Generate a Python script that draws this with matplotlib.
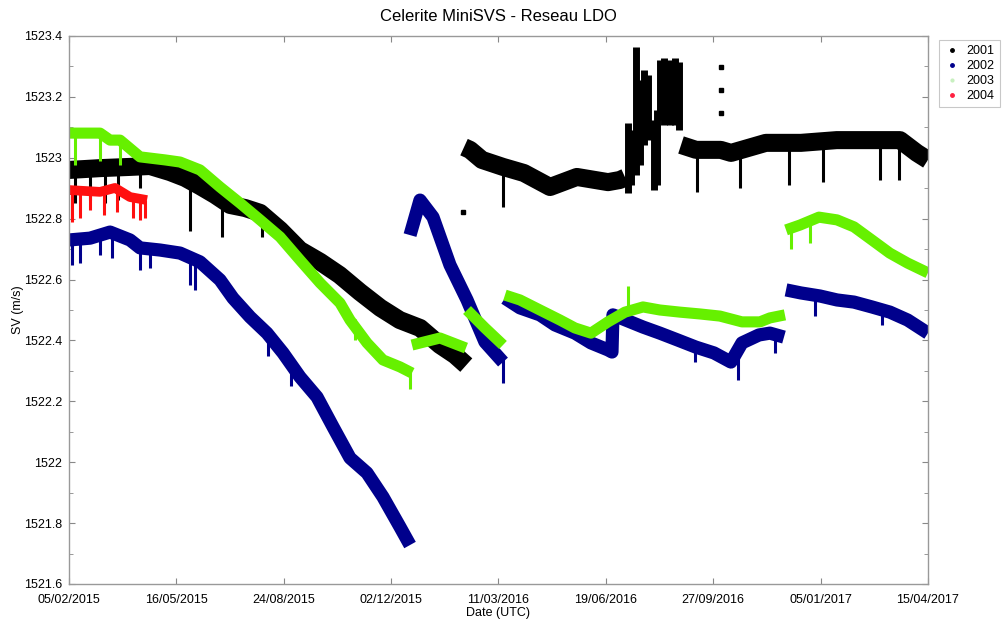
import numpy as np
import pandas as pd
import matplotlib
matplotlib.use('Agg')
import matplotlib.pyplot as plt
from matplotlib.lines import Line2D

plt.rcParams['font.family'] = ['Liberation Sans', 'DejaVu Sans']

# Origine des dates (jours depuis le debut de l'enregistrement)
t0 = pd.Timestamp('2015-02-05')

# Capteur 2001 (noir)
days_2001a = [0, 28.9, 56.8, 75.4, 94.1, 108, 122, 136, 150, 164, 178, 196.5, 215, 234, 252,
              271, 290, 308, 327, 345.5, 359.5, 370]
sv_2001a = [1522.960, 1522.966, 1522.970, 1522.973, 1522.953, 1522.934, 1522.907, 1522.878,
            1522.845, 1522.835, 1522.819, 1522.763, 1522.697, 1522.658, 1522.615, 1522.559,
            1522.507, 1522.467, 1522.441, 1522.385, 1522.352, 1522.319]
days_2001b = [367.9, 373.5, 384.6, 404.2, 423.7, 448, 473, 502, 513, 518]
sv_2001b = [1523.035, 1523.026, 1522.993, 1522.970, 1522.950, 1522.904, 1522.937, 1522.920,
            1522.927, 1522.935]
days_2001c = [570, 584, 607, 616.6, 649, 681.7, 715, 747.8, 774, 789.7, 800]
sv_2001c = [1523.042, 1523.026, 1523.026, 1523.016, 1523.049, 1523.049, 1523.058, 1523.058,
            1523.058, 1523.016, 1522.993]
# pics isoles (jour, min, max)
spk_2001 = [(5.6, 1522.85, 1522.96), (19.6, 1522.86, 1522.96), (33.5, 1522.85, 1522.97),
            (45.6, 1522.86, 1522.97), (66, 1522.90, 1522.97), (112.7, 1522.76, 1522.93),
            (142.5, 1522.74, 1522.86), (180, 1522.74, 1522.82), (404.2, 1522.838, 1522.97),
            (585, 1522.888, 1523.03), (625, 1522.90, 1523.02), (671, 1522.911, 1523.05),
            (702, 1522.92, 1523.05), (755, 1522.927, 1523.06), (773, 1522.927, 1523.06)]
# nuage de mesures dispersees (ete 2016)
cloud_2001 = [(520.6, 1522.884, 1523.114), (523.4, 1522.911, 1523.091),
              (528.1, 1522.943, 1523.364), (531.8, 1522.976, 1523.255),
              (535.5, 1523.042, 1523.288), (539.2, 1523.058, 1523.272),
              (544.8, 1522.894, 1523.124), (547.6, 1522.911, 1523.157),
              (550.4, 1523.124, 1523.321), (554.1, 1523.108, 1523.328),
              (559.7, 1523.108, 1523.321), (564.4, 1523.108, 1523.328),
              (568.1, 1523.091, 1523.315)]
dots_2001_days = [367, 607, 607, 607]
dots_2001_sv = [1522.822, 1523.298, 1523.223, 1523.147]

# Capteur 2002 (bleu)
days_2002a = [0, 19.6, 38.2, 56.8, 66.1, 84.7, 103.4, 122, 140.6, 152.7, 168.6, 184.4, 199.3,
              215.1, 231, 245.9, 261.7, 277.5, 292.4, 308.3, 317.6]
sv_2002a = [1522.730, 1522.736, 1522.756, 1522.730, 1522.704, 1522.697, 1522.687, 1522.658,
            1522.599, 1522.539, 1522.477, 1522.424, 1522.359, 1522.280, 1522.214, 1522.116,
            1522.014, 1521.965, 1521.886, 1521.787, 1521.728]
days_2002b = [317.6, 326.9, 339, 354.8, 370.7, 387.4, 404.2]
sv_2002b = [1522.746, 1522.861, 1522.805, 1522.648, 1522.533, 1522.395, 1522.329]
days_2002c = [406, 420, 438.6, 452.6, 471.2, 486.1, 502, 505.7, 506.6, 534.6, 550.3, 567.2,
              583.9, 600.7, 616.5, 626.8, 642.6, 652.8, 665.9]
sv_2002c = [1522.539, 1522.507, 1522.484, 1522.451, 1522.424, 1522.392, 1522.369, 1522.362,
            1522.484, 1522.444, 1522.424, 1522.401, 1522.378, 1522.359, 1522.329, 1522.392,
            1522.418, 1522.424, 1522.411]
days_2002d = [667.8, 681.7, 699.4, 715.3, 731.1, 747.8, 764.6, 781.1, 800]
sv_2002d = [1522.566, 1522.556, 1522.546, 1522.533, 1522.526, 1522.510, 1522.493, 1522.467,
            1522.424]
spk_2002 = [(2.8, 1522.648, 1522.74), (10.2, 1522.655, 1522.74), (28.9, 1522.681, 1522.75),
            (40, 1522.672, 1522.76), (66, 1522.631, 1522.71), (75.4, 1522.638, 1522.70),
            (112.7, 1522.582, 1522.69), (117, 1522.566, 1522.68), (185, 1522.35, 1522.43),
            (207, 1522.25, 1522.32), (250, 1522.06, 1522.12), (404.2, 1522.26, 1522.34),
            (583, 1522.33, 1522.39), (623, 1522.27, 1522.35), (658, 1522.36, 1522.43),
            (695, 1522.48, 1522.55), (757, 1522.45, 1522.50)]

# Capteur 2003 (vert)
days_2003a = [0, 28.9, 38.2, 47.5, 66.1, 89.4, 103.4, 122, 140.6, 159.3, 177.9, 196.5, 215.1,
              233.8, 252.4, 261.7, 277.5, 292.4, 308.3, 319.4]
sv_2003a = [1523.081, 1523.081, 1523.058, 1523.058, 1523.003, 1522.993, 1522.986, 1522.960,
            1522.904, 1522.851, 1522.796, 1522.740, 1522.664, 1522.589, 1522.523, 1522.467,
            1522.392, 1522.336, 1522.313, 1522.293]
days_2003b = [319.4, 345.5, 369.7]
sv_2003b = [1522.385, 1522.408, 1522.375]
days_2003c = [370.7, 387.4, 404.2]
sv_2003c = [1522.500, 1522.441, 1522.385]
days_2003d = [406, 420, 438.6, 457.3, 471.2, 486.1, 502, 517.8, 534.6, 550.3, 569, 587.7,
              606.3, 626.8, 643.5, 652.8, 666.8]
sv_2003d = [1522.549, 1522.533, 1522.500, 1522.467, 1522.441, 1522.424, 1522.461, 1522.493,
            1522.510, 1522.500, 1522.493, 1522.487, 1522.480, 1522.461, 1522.461, 1522.474,
            1522.484]
days_2003e = [667.8, 680.8, 698.5, 715.3, 731.1, 747.8, 764.4, 781.1, 800]
sv_2003e = [1522.763, 1522.779, 1522.805, 1522.796, 1522.773, 1522.730, 1522.687, 1522.654,
            1522.622]
spk_2003 = [(5.6, 1522.976, 1523.08), (28.9, 1522.99, 1523.08), (47.5, 1522.976, 1523.06),
            (266, 1522.40, 1522.47), (318, 1522.24, 1522.30), (521, 1522.49, 1522.58),
            (672, 1522.70, 1522.77), (690, 1522.72, 1522.79)]

# Capteur 2004 (rouge)
days_2004 = [0, 28.9, 42.8, 56.8, 72.6]
sv_2004 = [1522.894, 1522.888, 1522.901, 1522.871, 1522.861]
spk_2004 = [(2.8, 1522.789, 1522.89), (10.2, 1522.802, 1522.89), (19.6, 1522.828, 1522.89),
            (32.6, 1522.812, 1522.89), (44.7, 1522.822, 1522.90), (59.6, 1522.802, 1522.87),
            (66.1, 1522.796, 1522.87), (70.8, 1522.802, 1522.86)]

tick_days = [0, 100, 200, 300, 400, 500, 600, 700, 800]


def to_date(days):
    return t0 + pd.to_timedelta(np.array(days, dtype=float), unit='D')


def trace(ax, segments, spikes, color, lw, spike_lw=2.2):
    for d, v in segments:
        ax.plot(to_date(d), v, color=color, lw=lw, solid_capstyle='butt', solid_joinstyle='round')
    for d, lo, hi in spikes:
        ax.vlines(to_date([d]), lo, hi, color=color, lw=spike_lw)


fig = plt.figure(figsize=(10.02, 6.25), dpi=100)
ax = fig.add_axes([0.0689, 0.0656, 0.8572, 0.8768])

trace(ax, [(days_2001a, sv_2001a), (days_2001b, sv_2001b), (days_2001c, sv_2001c)],
      spk_2001, 'black', 13)
trace(ax, [], cloud_2001, 'black', 0, spike_lw=5)
ax.plot(to_date(dots_2001_days), dots_2001_sv, 's', color='black', ms=3)
trace(ax, [(days_2002a, sv_2002a), (days_2002b, sv_2002b), (days_2002c, sv_2002c),
           (days_2002d, sv_2002d)], spk_2002, '#00008c', 9.5)
trace(ax, [(days_2003a, sv_2003a), (days_2003b, sv_2003b), (days_2003c, sv_2003c),
           (days_2003d, sv_2003d), (days_2003e, sv_2003e)], spk_2003, '#66f000', 8)
trace(ax, [(days_2004, sv_2004)], spk_2004, '#ff1010', 7)

ax.set_xlim(to_date([0])[0], to_date([800])[0])
ax.set_ylim(1521.6, 1523.4)
ax.set_xticks(to_date(tick_days))
ax.set_xticklabels([d.strftime('%d/%m/%Y') for d in to_date(tick_days)])
ax.set_yticks(np.arange(1521.6, 1523.41, 0.2))
ax.set_yticklabels(['%g' % round(v, 1) for v in np.arange(1521.6, 1523.41, 0.2)])
ax.set_yticks(np.arange(1521.7, 1523.4, 0.2), minor=True)
ax.tick_params(axis='both', which='both', direction='in', top=True, right=True,
               labelsize=9, color='#888888', length=4)
ax.tick_params(axis='y', which='minor', length=3)
ax.tick_params(axis='x', pad=7)
ax.tick_params(axis='y', pad=5)
for s in ax.spines.values():
    s.set_color('#999999')
    s.set_linewidth(1)

ax.set_title('Celerite MiniSVS - Reseau LDO', fontsize=12, pad=11)
ax.set_xlabel('Date (UTC)', fontsize=9, labelpad=1)
ax.set_ylabel('SV (m/s)', fontsize=9, labelpad=0)

handles = [Line2D([], [], ls='none', marker='.', ms=5, color='black'),
           Line2D([], [], ls='none', marker='.', ms=5, color='#00008c'),
           Line2D([], [], ls='none', marker='.', ms=4, color='#c8f0c0'),
           Line2D([], [], ls='none', marker='.', ms=5, color='#ff2040')]
leg = fig.legend(handles, ['2001', '2002', '2003', '2004'], loc='upper left',
                 bbox_to_anchor=(0.931, 0.946), fontsize=9, frameon=True, fancybox=False,
                 handlelength=1.2, handletextpad=0.6, borderpad=0.4, labelspacing=0.25)
leg.get_frame().set_edgecolor('#bbbbbb')
leg.get_frame().set_linewidth(0.8)

fig.savefig('out.png', dpi=100)
